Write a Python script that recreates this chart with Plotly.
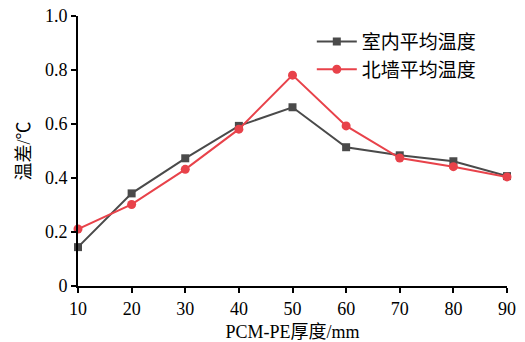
import plotly.graph_objects as go

thickness = [10, 20, 30, 40, 50, 60, 70, 80, 90]
indoor_avg = [0.144, 0.343, 0.473, 0.593, 0.662, 0.514, 0.484, 0.462, 0.407]
north_wall_avg = [0.211, 0.302, 0.432, 0.581, 0.781, 0.593, 0.474, 0.442, 0.404]
y_ticks = [0, 0.2, 0.4, 0.6, 0.8, 1.0]
y_ticktext = ["0", "0.2", "0.4", "0.6", "0.8", "1.0"]

serif = "'Times New Roman', 'Liberation Serif', serif"
cjk = "Noto Sans CJK SC"

fig = go.Figure()
fig.add_trace(go.Scatter(
    x=thickness, y=indoor_avg, name="室内平均温度", mode="lines+markers",
    line=dict(color="#4a4a4a", width=2), marker=dict(symbol="square", size=8, color="#4a4a4a"),
    cliponaxis=False))
fig.add_trace(go.Scatter(
    x=thickness, y=north_wall_avg, name="北墙平均温度", mode="lines+markers",
    line=dict(color="#e8424a", width=2), marker=dict(symbol="circle", size=9, color="#e8424a"),
    cliponaxis=False))

fig.update_layout(
    width=525, height=342,
    margin=dict(l=78, r=18, t=16, b=56),
    paper_bgcolor="white", plot_bgcolor="white",
    font=dict(family=serif, size=18, color="black"),
    showlegend=True,
    legend=dict(x=0.545, y=0.975, xanchor="left", yanchor="top", bgcolor="rgba(0,0,0,0)",
                font=dict(family=cjk, size=19, color="black"), itemwidth=40,
                tracegroupgap=0),
    xaxis=dict(range=[10, 90], tickvals=thickness, showline=True, linecolor="black", linewidth=2,
               ticks="outside", ticklen=5, tickwidth=1.5, tickcolor="black", showgrid=False,
               automargin=False, tickfont=dict(family=serif, size=18),
               zeroline=False, title=dict(text="PCM-PE厚度/mm", standoff=8,
                                          font=dict(family=serif + ", " + cjk, size=18))),
    yaxis=dict(range=[0, 1.0], tickvals=y_ticks, ticktext=y_ticktext, showline=True, linecolor="black",
               linewidth=2, ticks="outside", ticklen=5, tickwidth=1.5, tickcolor="black", showgrid=False,
               automargin=False, tickfont=dict(family=serif, size=18),
               zeroline=False, title=dict(text="温差/℃", standoff=10,
                                          font=dict(family=serif + ", " + cjk, size=18))),
)

fig.write_html("out.html")
